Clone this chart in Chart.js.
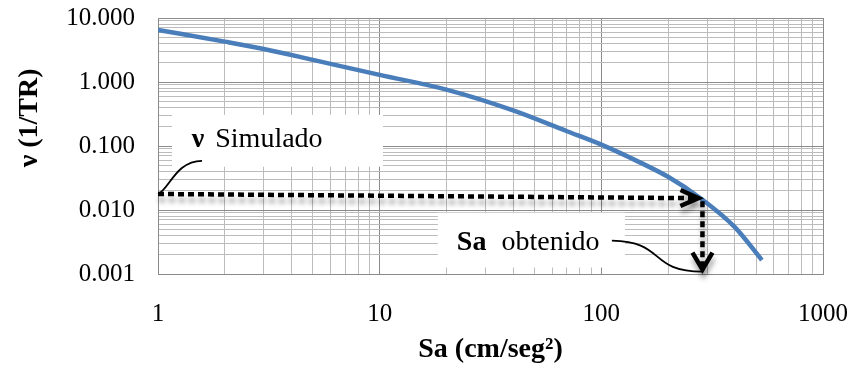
<!DOCTYPE html>
<html>
<head>
<meta charset="utf-8">
<script src="https://cdn.jsdelivr.net/npm/chart.js@4/dist/chart.umd.min.js"></script>
<style>
  html, body { margin: 0; padding: 0; background: #fff; }
  canvas { display: block; }
</style>
</head>
<body>
<canvas id="chart" width="850" height="376"></canvas>
<script>
// Hazard curve: annual exceedance rate vs spectral acceleration
const sa = [1, 2, 3, 5, 10, 20, 40, 70, 100, 150, 200, 280, 400, 530];
const rate = [6.5, 4.27, 3.28, 2.22, 1.29, 0.76, 0.36, 0.17, 0.105, 0.055, 0.033, 0.0153, 0.0054, 0.00165];

const xTickLabels = ['1', '10', '100', '1000'];
const yTickLabels = ['0.001', '0.010', '0.100', '1.000', '10.000'];

const xTitle = 'Sa (cm/seg²)';
const yTitle = 'ν (1/TR)';
const simulatedLabel = ['ν', 'Simulado'];
const obtainedLabel = ['Sa', 'obtenido'];

// Read-off guide: simulated rate -> curve -> obtained Sa
const guideStart = [1, 0.0178];
const readPoint = [280, 0.0153];
const guideEndRate = 0.00117;

const SERIF = "'Liberation Serif', 'Times New Roman', serif";
const GRID_MAJOR = '#8a8a8a';
const GRID_MINOR = '#bcbcbc';

function isDecade(v) {
  const l = Math.log10(v);
  return Math.abs(l - Math.round(l)) < 1e-9;
}

// 1..9 per decade, plus the closing decade
function decadeTicks(lo, hi) {
  const ticks = [];
  for (let e = lo; e < hi; e++) {
    for (let k = 1; k <= 9; k++) ticks.push({ value: +(k * Math.pow(10, e)).toPrecision(3) });
  }
  ticks.push({ value: Math.pow(10, hi) });
  return ticks;
}

function gridColor(ctx) {
  return ctx.tick && isDecade(ctx.tick.value) ? GRID_MAJOR : GRID_MINOR;
}

// fixed box size; label overflow is already covered by layout padding
function fixBox(scale, w, h) {
  if (w !== null) scale.width = w;
  if (h !== null) scale.height = h;
  scale.paddingTop = 0;
  scale.paddingBottom = 0;
  scale.paddingLeft = 0;
  scale.paddingRight = 0;
}

function toPx(chart, x, y) {
  return { x: chart.scales.x.getPixelForValue(x), y: chart.scales.y.getPixelForValue(y) };
}

function chevron(ctx, tip, from, len, half) {
  const dx = tip.x - from.x, dy = tip.y - from.y;
  const d = Math.hypot(dx, dy);
  const ux = dx / d, uy = dy / d;
  const bx = tip.x - ux * len, by = tip.y - uy * len;
  ctx.beginPath();
  ctx.moveTo(bx - uy * half, by + ux * half);
  ctx.lineTo(tip.x, tip.y);
  ctx.lineTo(bx + uy * half, by - ux * half);
  ctx.stroke();
}

const annotationPlugin = {
  id: 'readGuide',
  beforeDatasetsDraw(chart, args, opts) {
    const { ctx } = chart;
    ctx.save();
    ctx.fillStyle = '#ffffff';
    opts.boxes.forEach(b => {
      const a = toPx(chart, b.from[0], b.from[1]);
      const c = toPx(chart, b.to[0], b.to[1]);
      ctx.fillRect(a.x, a.y, c.x - a.x, c.y - a.y);
    });
    ctx.restore();
  },
  afterDatasetsDraw(chart, args, opts) {
    const { ctx } = chart;
    const start = toPx(chart, guideStart[0], guideStart[1]);
    const hit = toPx(chart, readPoint[0], readPoint[1]);
    const end = toPx(chart, readPoint[0], guideEndRate);

    // dotted guide arrows with a soft drop shadow
    ctx.save();
    ctx.strokeStyle = '#000';
    ctx.lineWidth = 4.5;
    ctx.shadowColor = 'rgba(0,0,0,0.35)';
    ctx.shadowBlur = 5;
    ctx.shadowOffsetX = 1;
    ctx.shadowOffsetY = 6;
    ctx.setLineDash([6, 4]);
    ctx.beginPath();
    ctx.moveTo(start.x, start.y);
    ctx.lineTo(hit.x - 4, hit.y);
    ctx.stroke();
    ctx.beginPath();
    ctx.moveTo(hit.x + 2, hit.y + 3);
    ctx.lineTo(end.x + 2, end.y - 3);
    ctx.stroke();
    ctx.setLineDash([]);
    ctx.lineJoin = 'miter';
    chevron(ctx, { x: hit.x - 2, y: hit.y }, start, 18, 8);
    chevron(ctx, { x: end.x + 2, y: end.y }, { x: end.x + 2, y: hit.y }, 17, 10);
    ctx.restore();

    // callout labels
    ctx.save();
    ctx.fillStyle = '#000';
    ctx.textBaseline = 'alphabetic';
    const drawPair = (pair, anchor, gap) => {
      const p = toPx(chart, anchor[0], anchor[1]);
      ctx.font = 'bold 28px ' + SERIF;
      ctx.fillText(pair[0], p.x, p.y);
      const w = ctx.measureText(pair[0]).width;
      ctx.font = '28px ' + SERIF;
      ctx.fillText(pair[1], p.x + w + gap, p.y);
    };
    drawPair(simulatedLabel, opts.simulatedAt, 11);
    drawPair(obtainedLabel, opts.obtainedAt, 15);

    // leader lines
    ctx.strokeStyle = '#000';
    ctx.lineWidth = 1.8;
    const s1 = toPx(chart, opts.simulatedLeader[0], opts.simulatedLeader[1]);
    ctx.beginPath();
    ctx.moveTo(s1.x, s1.y);
    ctx.bezierCurveTo(s1.x + (start.x - s1.x) * 0.6, s1.y,
                      start.x + 11, start.y - 4, start.x, start.y);
    ctx.stroke();
    const s2 = toPx(chart, opts.obtainedLeader[0], opts.obtainedLeader[1]);
    const e2 = { x: end.x + 2, y: end.y + 2 };
    ctx.beginPath();
    ctx.moveTo(s2.x, s2.y);
    ctx.bezierCurveTo(s2.x + (e2.x - s2.x) * 0.6, s2.y + 1,
                      e2.x - (e2.x - s2.x) * 0.6, e2.y, e2.x, e2.y);
    ctx.stroke();
    ctx.restore();
  }
};

const yTitlePlugin = {
  id: 'yTitle',
  afterDraw(chart, args, opts) {
    const { ctx, chartArea } = chart;
    ctx.save();
    ctx.translate(opts.x, chartArea.top + chartArea.height * opts.along);
    ctx.rotate(-Math.PI / 2);
    ctx.font = 'bold 28px ' + SERIF;
    ctx.fillStyle = '#000';
    ctx.textAlign = 'center';
    ctx.textBaseline = 'middle';
    ctx.fillText(yTitle, 0, 0);
    ctx.restore();
  }
};

new Chart(document.getElementById('chart'), {
  type: 'scatter',
  data: {
    datasets: [{
      data: sa.map((v, i) => ({ x: v, y: rate[i] })),
      showLine: true,
      borderColor: '#4a7ebb',
      borderWidth: 4.5,
      pointRadius: 0,
      cubicInterpolationMode: 'monotone',
      fill: false
    }]
  },
  options: {
    responsive: false,
    animation: false,
    layout: { padding: { top: 18, right: 27, bottom: 0, left: 0 } },
    plugins: {
      legend: { display: false },
      tooltip: { enabled: false },
      readGuide: {
        boxes: [
          { from: [1.157, 0.307], to: [10.35, 0.0474] },
          { from: [18.3, 0.00908], to: [127.8, 0.00126] }
        ],
        simulatedAt: [1.42, 0.0972],
        obtainedAt: [22.3, 0.0024],
        simulatedLeader: [1.58, 0.0587],
        obtainedLeader: [111.6, 0.00332]
      },
      yTitle: { x: 30, along: 0.39 }
    },
    scales: {
      x: {
        type: 'logarithmic',
        min: 1,
        max: 1000,
        afterBuildTicks: s => { s.ticks = decadeTicks(0, 3); },
        afterFit: s => fixBox(s, null, 102),
        grid: { color: gridColor, lineWidth: 1, drawTicks: false },
        border: { color: GRID_MAJOR, width: 1 },
        ticks: {
          autoSkip: false,
          maxRotation: 0,
          padding: 25,
          color: '#000',
          font: { family: SERIF, size: 25 },
          callback: v => isDecade(v) ? xTickLabels[Math.round(Math.log10(v))] : ''
        },
        title: {
          display: true,
          text: xTitle,
          color: '#000',
          font: { family: SERIF, size: 28, weight: 'bold', lineHeight: 1.2 },
          padding: { top: 0, bottom: 9 }
        }
      },
      y: {
        type: 'logarithmic',
        min: 0.001,
        max: 10,
        afterBuildTicks: s => { s.ticks = decadeTicks(-3, 1); },
        afterFit: s => fixBox(s, 158, null),
        grid: { color: gridColor, lineWidth: 1, drawTicks: false },
        border: { color: GRID_MAJOR, width: 1 },
        ticks: {
          autoSkip: false,
          padding: 23,
          color: '#000',
          font: { family: SERIF, size: 25 },
          callback: v => isDecade(v) ? yTickLabels[Math.round(Math.log10(v)) + 3] : ''
        }
      }
    }
  },
  plugins: [annotationPlugin, yTitlePlugin]
});
</script>
</body>
</html>
